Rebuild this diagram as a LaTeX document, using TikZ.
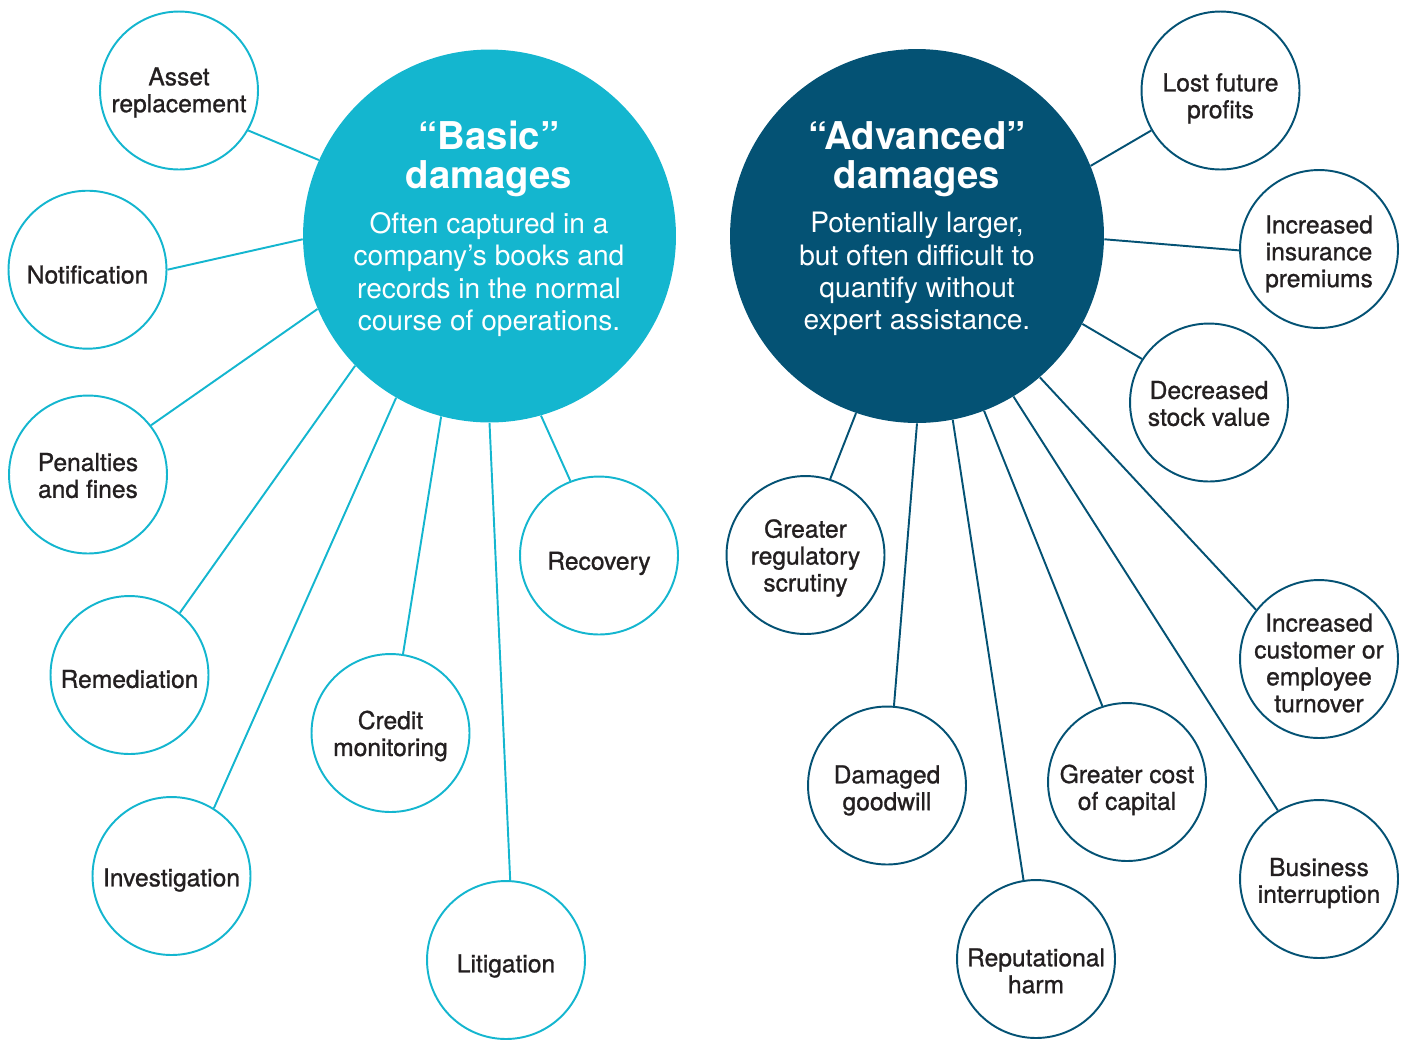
\documentclass[tikz,border=0pt]{standalone}
\usepackage{fontspec}
\setmainfont{TeX Gyre Heros}
\newfontfamily\medfont[FakeBold=1]{TeX Gyre Heros}
\usepackage{tikz}
\usetikzlibrary{positioning}
\definecolor{basicCol}{HTML}{14B6CF}
\definecolor{advCol}{HTML}{045274}
\definecolor{inkCol}{HTML}{231F20}
\tikzset{bigBasic/.style={circle, fill=basicCol, minimum size=7.46cm, inner sep=0pt}}
\tikzset{bigAdv/.style={circle, fill=advCol, minimum size=7.48cm, inner sep=0pt}}
\tikzset{smallBasic/.style={circle, draw=basicCol, line width=1.1pt, fill=white, minimum size=3.16cm, inner sep=0pt}}
\tikzset{smallAdv/.style={smallBasic, draw=advCol}}
\tikzset{smallTxt/.style={align=center, text=inkCol, inner sep=0pt, font=\medfont\fontsize{14}{15.3}\selectfont}}
\tikzset{titleTxt/.style={align=center, text=white, inner sep=0pt, font=\bfseries\fontsize{21.8}{22.2}\selectfont}}
\tikzset{bodyTxt/.style={align=center, text=white, inner sep=0pt, font=\fontsize{16}{18.4}\selectfont}}
\tikzset{lineBasic/.style={draw=basicCol, line width=1.1pt}}
\tikzset{lineAdv/.style={draw=advCol, line width=1.1pt}}

\begin{document}
\begin{tikzpicture}[x=0.02cm, y=-0.02cm]
\useasboundingbox (0, 0) rectangle (1405, 1039);

\node[bigBasic] (basic) at (489.5, 236) {};
\node[bigAdv] (adv) at (917, 236) {};

\node[titleTxt] (basicTtl) at (489, 159) {“Basic”\\damages};
\node[bodyTxt, below=0.3cm of basicTtl] (basicTxt) {Often captured in a\\company’s books and\\records in the normal\\course of operations.};
\node[titleTxt] (advTtl) at (917, 159) {“Advanced”\\damages};
\node[bodyTxt, below=0.3cm of advTtl] (advTxt) {Potentially larger,\\but often difficult to\\quantify without\\expert assistance.};

\node[smallBasic, label={[smallTxt, yshift=-1.1pt]center:{Asset\\replacement}}] (asset) at (179, 90.5) {};
\node[smallBasic, label={[smallTxt, yshift=-2.8pt]center:{Notification}}] (notif) at (87.5, 269.7) {};
\node[smallBasic, label={[smallTxt, yshift=-0.6pt]center:{Penalties\\and fines}}] (penalty) at (88, 474.5) {};
\node[smallBasic, label={[smallTxt, yshift=-2.3pt]center:{Remediation}}] (remed) at (129.5, 675) {};
\node[smallBasic, label={[smallTxt, yshift=-2.3pt]center:{Investigation}}] (invest) at (171.5, 876) {};
\node[smallBasic, label={[smallTxt, yshift=-1.7pt]center:{Credit\\monitoring}}] (credit) at (390.5, 733) {};
\node[smallBasic, label={[smallTxt, yshift=-3.4pt]center:{Litigation}}] (litig) at (506, 960) {};
\node[smallBasic, label={[smallTxt, yshift=-4.5pt]center:{Recovery}}] (recov) at (599, 555.5) {};

\node[smallAdv, label={[smallTxt, yshift=-4.5pt]center:{Lost future\\profits}}] (lost) at (1220.5, 90.5) {};
\node[smallAdv, label={[smallTxt, yshift=-2.8pt]center:{Increased\\insurance\\premiums}}] (insur) at (1319, 249) {};
\node[smallAdv, label={[smallTxt, yshift=-0.6pt]center:{Decreased\\stock value}}] (stock) at (1209, 402.5) {};
\node[smallAdv, label={[smallTxt, yshift=-1.7pt]center:{Greater\\regulatory\\scrutiny}}] (scrut) at (805.5, 555) {};
\node[smallAdv, label={[smallTxt, yshift=-2.3pt]center:{Increased\\customer or\\employee\\turnover}}] (turn) at (1319, 659) {};
\node[smallAdv, label={[smallTxt, yshift=-2.8pt]center:{Damaged\\goodwill}}] (goodw) at (887, 785.5) {};
\node[smallAdv, label={[smallTxt, yshift=-4.5pt]center:{Greater cost\\of capital}}] (capit) at (1127, 782) {};
\node[smallAdv, label={[smallTxt, yshift=-2.3pt]center:{Business\\interruption}}] (busin) at (1319, 879) {};
\node[smallAdv, label={[smallTxt, yshift=-6.8pt]center:{Reputational\\harm}}] (reput) at (1036, 959) {};

\draw[lineBasic] (basic.156.7) to (asset.330.8);
\draw[lineBasic] (basic.181) to (notif.0);
\draw[lineBasic] (basic.203.3) to (penalty.38.3);
\draw[lineBasic] (basic.224.9) to (remed.51.3);
\draw[lineBasic] (basic.240.7) to (invest.58.4);
\draw[lineBasic] (basic.255.7) to (credit.81.8);
\draw[lineBasic] (basic.270.7) to (litig.87.8);
\draw[lineBasic] (basic.286.5) to (recov.111.9);

\draw[lineAdv] (adv.22.1) to (lost.210.9);
\draw[lineAdv] (adv.359.8) to (insur.181.1);
\draw[lineAdv] (adv.332.5) to (stock.147.3);
\draw[lineAdv] (adv.251) to (scrut.72.5);
\draw[lineAdv] (adv.270.7) to (goodw.85);
\draw[lineAdv] (adv.281.4) to (reput.99.2);
\draw[lineAdv] (adv.291.8) to (capit.108);
\draw[lineAdv] (adv.301.1) to (busin.121.5);
\draw[lineAdv] (adv.311.2) to (turn.142.6);

\end{tikzpicture}
\end{document}
